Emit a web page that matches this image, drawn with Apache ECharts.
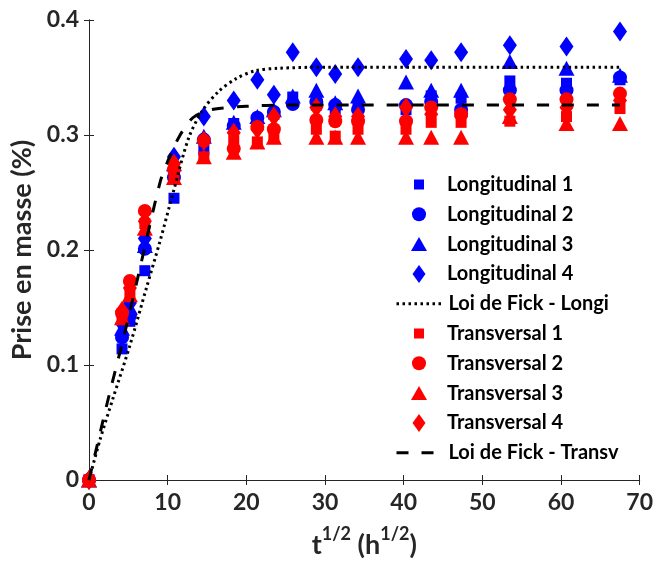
<!DOCTYPE html>
<html>
<head>
<meta charset="utf-8">
<script src="https://cdn.jsdelivr.net/npm/echarts@6/dist/echarts.min.js"></script>
<style>
html,body{margin:0;padding:0;background:#fff;}
#chart{width:656px;height:564px;}
</style>
</head>
<body>
<div id="chart"></div>
<script>
// ---- Data ----
var xTimes = [0, 4.2, 5.2, 7.1, 10.8, 14.6, 18.4, 21.4, 23.5, 25.9, 28.9, 31.3, 34.2, 40.3, 43.5, 47.3, 53.5, 60.7, 67.5];

var longi1 = [0, 0.114, 0.138, 0.182, 0.245, 0.287, 0.310, 0.313, 0.318, 0.333, 0.326, 0.323, 0.325, 0.322, 0.334, 0.332, 0.347, 0.345, 0.348];
var longi2 = [0, 0.124, 0.143, 0.201, 0.263, 0.296, 0.308, 0.315, 0.320, 0.327, 0.329, 0.326, 0.322, 0.326, 0.329, 0.322, 0.339, 0.339, 0.350];
var longi3 = [0, 0.132, 0.150, 0.204, 0.275, 0.299, 0.311, 0.316, 0.322, 0.334, 0.339, 0.328, 0.334, 0.346, 0.339, 0.339, 0.364, 0.358, 0.352];
var longi4 = [0, 0.136, 0.154, 0.210, 0.281, 0.316, 0.330, 0.348, 0.335, 0.372, 0.359, 0.353, 0.359, 0.366, 0.365, 0.372, 0.378, 0.377, 0.390];

var trans1 = [0, 0.143, 0.163, 0.223, 0.262, 0.281, 0.295, 0.294, 0.298, null, 0.305, 0.299, 0.305, 0.305, 0.311, 0.311, 0.312, 0.316, 0.323];
var trans2 = [0, 0.145, 0.173, 0.234, 0.270, 0.295, 0.288, 0.307, 0.305, null, 0.313, 0.312, 0.312, 0.312, 0.324, 0.318, 0.331, 0.331, 0.336];
var trans3 = [0, 0.141, 0.161, 0.219, 0.263, 0.281, 0.285, 0.294, 0.298, null, 0.298, 0.298, 0.298, 0.298, 0.298, 0.298, 0.316, 0.310, 0.310];
var trans4 = [0, 0.147, 0.167, 0.225, 0.275, 0.295, 0.302, 0.305, 0.316, null, 0.324, 0.316, 0.316, 0.324, 0.318, 0.316, 0.322, 0.324, 0.330];

var fickLongiX = [0, 1.4, 3.0, 5.2, 7.3, 9.0, 10.7, 12.7, 14.5, 16.5, 18.7, 21.2, 24.0, 30.0, 67.5];
var fickLongiY = [0, 0.035, 0.070, 0.117, 0.167, 0.207, 0.250, 0.298, 0.322, 0.338, 0.349, 0.356, 0.358, 0.359, 0.359];

var fickTransX = [0, 1.0, 2.6, 4.3, 6.0, 9.0, 10.0, 11.5, 13.2, 15.0, 16.5, 20.0, 25.0, 67.5];
var fickTransY = [0, 0.029, 0.075, 0.121, 0.170, 0.258, 0.277, 0.299, 0.315, 0.321, 0.323, 0.325, 0.326, 0.326];

var xTicks = [0, 10, 20, 30, 40, 50, 60, 70];
var yTicks = [0, 0.1, 0.2, 0.3, 0.4];

var seriesNames = ['Longitudinal 1', 'Longitudinal 2', 'Longitudinal 3', 'Longitudinal 4', 'Loi de Fick - Longi',
                   'Transversal 1', 'Transversal 2', 'Transversal 3', 'Transversal 4', 'Loi de Fick - Transv'];

// ---- Build ----
function pairs(xs, ys) {
  var out = [];
  for (var i = 0; i < xs.length; i++) if (ys[i] !== null) out.push([xs[i], ys[i]]);
  return out;
}
var BLUE = '#0000FF', RED = '#FF0000';
var DIAMOND = 'path://M0,-9L6.5,0L0,9L-6.5,0Z';
var markers = {
  square: { symbol: 'rect', size: [11, 11] },
  circle: { symbol: 'circle', size: [14, 14] },
  triangle: { symbol: 'triangle', size: [16, 15] },
  diamond: { symbol: 'diamond', size: [14, 20] }
};
function scatter(name, ys, color, m) {
  return {
    name: name, type: 'scatter', data: pairs(xTimes, ys),
    symbol: markers[m].symbol, symbolSize: markers[m].size,
    itemStyle: { color: color, opacity: 1 },
    emphasis: { disabled: true }, animation: false
  };
}
function line(name, xs, ys, dash) {
  return {
    name: name, type: 'line', data: pairs(xs, ys), showSymbol: false, symbol: 'none',
    smooth: 0.3,
    lineStyle: { color: '#000', width: 3, type: dash, cap: 'butt' },
    itemStyle: { color: '#000' },
    emphasis: { disabled: true }, animation: false
  };
}

var series = [
  scatter(seriesNames[0], longi1, BLUE, 'square'),
  scatter(seriesNames[1], longi2, BLUE, 'circle'),
  scatter(seriesNames[2], longi3, BLUE, 'triangle'),
  scatter(seriesNames[3], longi4, BLUE, 'diamond'),
  line(seriesNames[4], fickLongiX, fickLongiY, [2.5, 3.5]),
  scatter(seriesNames[5], trans1, RED, 'square'),
  scatter(seriesNames[6], trans2, RED, 'circle'),
  scatter(seriesNames[7], trans3, RED, 'triangle'),
  scatter(seriesNames[8], trans4, RED, 'diamond'),
  line(seriesNames[9], fickTransX, fickTransY, [12, 13])
];

var FONT = 'Lato';
var legendIcon = ['square', 'circle', 'triangle', 'diamond', 'line', 'square', 'circle', 'triangle', 'diamond', 'line'];
var legends = seriesNames.map(function (n, i) {
  var k = legendIcon[i];
  var cy = 184.5 + 29.8 * i;
  var w, h, icon;
  if (k === 'line') { w = 48; h = 14; icon = undefined; }
  else if (k === 'square') { w = 10; h = 10; icon = 'rect'; }
  else if (k === 'circle') { w = 14; h = 14; icon = 'circle'; }
  else if (k === 'triangle') { w = 16; h = 14; icon = 'triangle'; }
  else { w = 13; h = 18; icon = DIAMOND; }
  var left = (k === 'line') ? 395 : 419 - w / 2;
  var padLeft = 447 - (left + w + 5);
  var item = { name: n };
  if (icon) item.icon = icon;
  else { item.itemStyle = { opacity: 0 }; item.lineStyle = { width: 3 }; }
  var lg = {
    data: [item], left: left, top: cy - 12, orient: 'vertical',
    itemWidth: w, itemHeight: h, selectedMode: false, padding: 0,
    textStyle: { fontFamily: FONT, fontWeight: 'bold', fontSize: 20, color: '#000', lineHeight: 24, padding: [0, 0, 0, padLeft] }
  };
  if (!icon) lg.lineStyle = { width: 3 };
  return lg;
});

var axisLine = { show: true, lineStyle: { color: '#262626', width: 1 } };
var tickStyle = { show: true, inside: true, length: 5, lineStyle: { color: '#262626', width: 1 } };
var labelStyle = { fontFamily: FONT, fontWeight: 'bold', fontSize: 23, color: '#262626' };

var option = {
  backgroundColor: '#fff',
  animation: false,
  grid: { left: 89, right: 13, top: 20, bottom: 80, containLabel: false },
  legend: legends,
  xAxis: [{
    type: 'value', min: 0, max: 70, interval: 10, position: 'bottom',
    axisLine: axisLine, axisTick: tickStyle, splitLine: { show: false },
    axisLabel: Object.assign({ margin: 11, formatter: function (v) { return xTicks.indexOf(v) >= 0 ? String(v) : ''; } }, labelStyle),
    name: '{t|t}{s|1/2}{t| (h}{s|1/2}{t|)}', nameLocation: 'middle', nameGap: 45,
    nameTextStyle: {
      rich: {
        t: { fontFamily: FONT, fontWeight: 'bold', fontSize: 27, color: '#262626', lineHeight: 34, verticalAlign: 'bottom' },
        s: { fontFamily: FONT, fontWeight: 'bold', fontSize: 18, color: '#262626', lineHeight: 18, verticalAlign: 'top' }
      }
    }
  }, {
    type: 'value', min: 0, max: 70, interval: 10, position: 'top',
    axisLine: axisLine, axisTick: tickStyle, axisLabel: { show: false }, splitLine: { show: false }
  }],
  yAxis: [{
    type: 'value', min: 0, max: 0.4, interval: 0.1, position: 'left',
    axisLine: axisLine, axisTick: tickStyle, splitLine: { show: false },
    axisLabel: Object.assign({ margin: 10, formatter: function (v) { return v === 0 ? '0' : v.toFixed(1); } }, labelStyle),
    name: 'Prise en masse (%)', nameLocation: 'middle', nameGap: 52,
    nameTextStyle: { fontFamily: FONT, fontWeight: 'bold', fontSize: 27, color: '#262626' }
  }, {
    type: 'value', min: 0, max: 0.4, interval: 0.1, position: 'right',
    axisLine: axisLine, axisTick: tickStyle, axisLabel: { show: false }, splitLine: { show: false }
  }],
  series: series
};

var chart = echarts.init(document.getElementById('chart'), null, { renderer: 'canvas' });
chart.setOption(option);
</script>
</body>
</html>
